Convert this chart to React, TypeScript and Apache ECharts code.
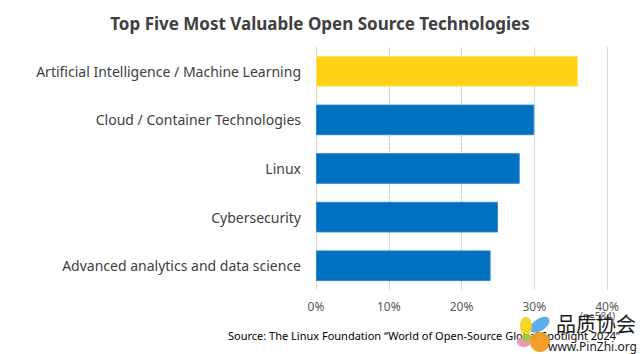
import React, { useEffect, useRef } from "react";
import * as echarts from "echarts";

const categories = [
  "Advanced analytics and data science",
  "Cybersecurity",
  "Linux",
  "Cloud / Container Technologies",
  "Artificial Intelligence / Machine Learning",
];
const values = [24, 25, 28, 30, 36];
const highlightIndex = 4;
const xTicks = [0, 10, 20, 30, 40];

const titleText = "Top Five Most Valuable Open Source Technologies";
const sourceText = "Source: The Linux Foundation \u201cWorld of Open-Source Global Spotlight 2024\u201d";
const sampleText = "(n=584)";
const watermarkCn = "品质协会";
const watermarkUrl = "www.PinZhi.org";

export default function App() {
  const ref = useRef<HTMLDivElement>(null);
  useEffect(() => {
    if (!ref.current) return;
    const chart = echarts.init(ref.current, null, { renderer: "svg" });
    const font = "'Noto Sans', 'Open Sans', sans-serif";
    chart.setOption({
      animation: false,
      backgroundColor: "#ffffff",
      textStyle: { fontFamily: font },
      title: {
        text: titleText,
        left: "center",
        top: 10,
        textStyle: { fontSize: 17, fontWeight: "bold", color: "#404040", fontFamily: font },
      },
      grid: { left: 316, right: 33, top: 47, bottom: 64, containLabel: false },
      xAxis: {
        type: "value",
        min: xTicks[0],
        max: xTicks[xTicks.length - 1],
        interval: 10,
        axisLine: { show: false },
        axisTick: { show: false },
        splitLine: { show: true, lineStyle: { color: "#d9d9d9", width: 1 } },
        axisLabel: { formatter: "{value}%", color: "#595959", fontSize: 12, margin: 10 },
      },
      yAxis: {
        type: "category",
        data: categories,
        axisLine: { show: true, lineStyle: { color: "#d9d9d9" } },
        axisTick: { show: false },
        axisLabel: { color: "#404040", fontSize: 14, margin: 15 },
      },
      series: [
        {
          type: "bar",
          data: values.map((v, i) => ({
            value: v,
            itemStyle: {
              color: i === highlightIndex ? "#ffd014" : "#0070c0",
              borderColor: i === highlightIndex ? "#ffe060" : "#2a86cf",
              borderWidth: 1,
            },
          })),
          barCategoryGap: "37%",
        },
      ],
      graphic: [
        {
          type: "text",
          right: 25,
          top: 311,
          style: { text: sampleText, fontSize: 10, fill: "#595959", fontFamily: font },
        },
        {
          type: "text",
          left: 228,
          top: 330,
          style: { text: sourceText, fontSize: 11, fill: "#000000", fontFamily: font },
        },
        { type: "ellipse", shape: { cx: 540, cy: 325, rx: 11, ry: 6 }, rotation: 0.6, originX: 540, originY: 325, style: { fill: "#4da6e8", opacity: 0.9 } },
        { type: "ellipse", shape: { cx: 526, cy: 326, rx: 6, ry: 9 }, style: { fill: "#f5d20f", opacity: 0.9 } },
        { type: "ellipse", shape: { cx: 524, cy: 342, rx: 7, ry: 5 }, style: { fill: "#e98fb5", opacity: 0.9 } },
        { type: "ellipse", shape: { cx: 527, cy: 338, rx: 5, ry: 4 }, style: { fill: "#9ccc3c", opacity: 0.9 } },
        { type: "circle", shape: { cx: 540, cy: 342, r: 10 }, style: { fill: "#f39a1c", opacity: 0.95 } },
        {
          type: "text",
          left: 556,
          top: 313,
          style: { text: watermarkCn, fontSize: 20, fill: "#1a1a1a", fontFamily: "'Noto Sans CJK SC', sans-serif" },
        },
        {
          type: "text",
          left: 548,
          top: 340,
          style: { text: watermarkUrl, fontSize: 12, fill: "#1a1a1a", fontFamily: font },
        },
      ],
    });
    return () => chart.dispose();
  }, []);
  return <div ref={ref} style={{ width: 640, height: 354, position: "absolute", left: 0, top: 0 }} />;
}
